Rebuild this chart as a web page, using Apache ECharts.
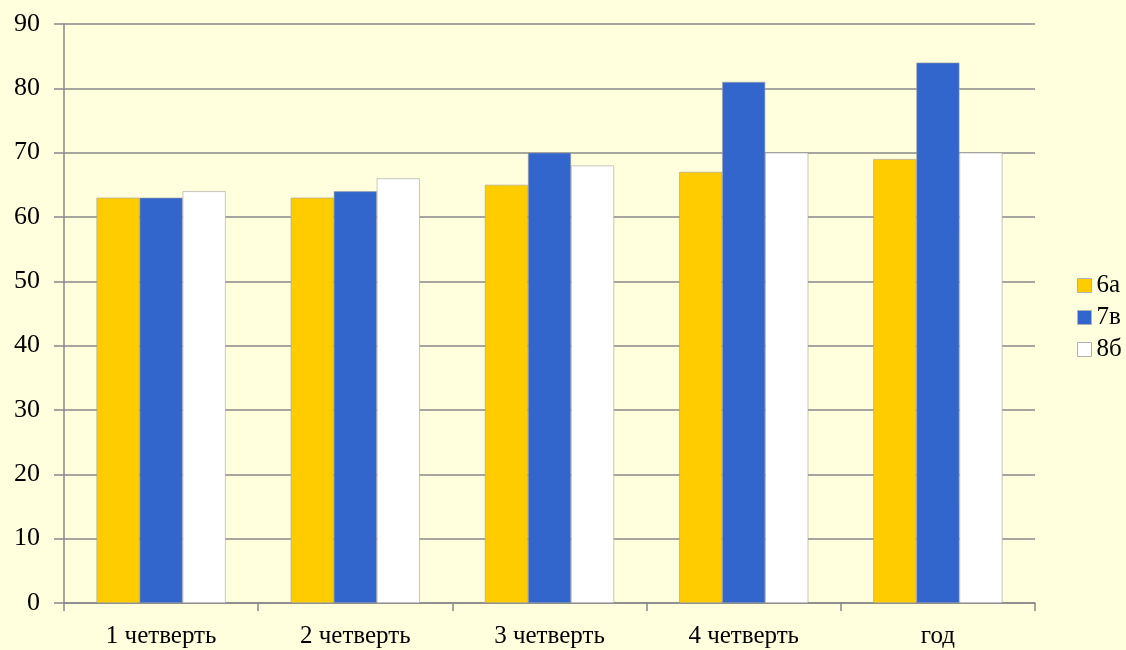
<!DOCTYPE html>
<html>
<head>
<meta charset="utf-8">
<script src="https://cdn.jsdelivr.net/npm/echarts@6/dist/echarts.min.js"></script>
<style>
  html, body { margin: 0; padding: 0; background: #FFFFDD; }
  #chart { width: 1126px; height: 650px; }
</style>
</head>
<body>
<div id="chart"></div>
<script>
// категории и значения
const categories = ['1 четверть', '2 четверть', '3 четверть', '4 четверть', 'год'];
const s6a = [63, 63, 65, 67, 69];
const s7v = [63, 64, 70, 81, 84];
const s8b = [64, 66, 68, 70, 70];
const seriesNames = ['6а', '7в', '8б'];
const colors = ['#FFCC00', '#3366CC', '#FFFFFF'];

const font = 'Liberation Serif, Times New Roman, serif';

const myChart = echarts.init(document.getElementById('chart'));

function bar(name, data, color) {
  return {
    name: name,
    type: 'bar',
    data: data,
    barGap: '0%',
    barCategoryGap: '33.5%',
    itemStyle: { color: color, borderColor: '#A0A0A0', borderWidth: 0.6 }
  };
}

const option = {
  backgroundColor: '#FFFFDD',
  animation: false,
  color: colors,
  grid: { left: 64, right: 91, top: 24, bottom: 47 },
  legend: {
    orient: 'vertical',
    left: 1077,
    top: 273,
    padding: 0,
    itemWidth: 14,
    itemHeight: 14,
    itemGap: 7,
    itemTextGap: 4,
    icon: 'rect',
    data: seriesNames,
    itemStyle: { borderColor: '#B0B0B0', borderWidth: 1 },
    textStyle: { fontFamily: font, fontSize: 25, color: '#000' }
  },
  xAxis: {
    type: 'category',
    data: categories,
    axisLine: { lineStyle: { color: '#888', width: 1.5 } },
    axisTick: { show: true, length: 8, lineStyle: { color: '#888', width: 1.5 } },
    axisLabel: { fontFamily: font, fontSize: 25, color: '#000', margin: 21 }
  },
  yAxis: {
    type: 'value',
    min: 0,
    max: 90,
    interval: 10,
    axisLine: { show: true, lineStyle: { color: '#888', width: 1.5 } },
    axisTick: { show: true, inside: false, length: 10, lineStyle: { color: '#888', width: 1.5 } },
    splitLine: { lineStyle: { color: '#888', width: 1.5 } },
    axisLabel: { fontFamily: font, fontSize: 26, color: '#000', margin: 24 }
  },
  series: [
    bar(seriesNames[0], s6a, colors[0]),
    bar(seriesNames[1], s7v, colors[1]),
    bar(seriesNames[2], s8b, colors[2])
  ]
};

myChart.setOption(option);
</script>
</body>
</html>
